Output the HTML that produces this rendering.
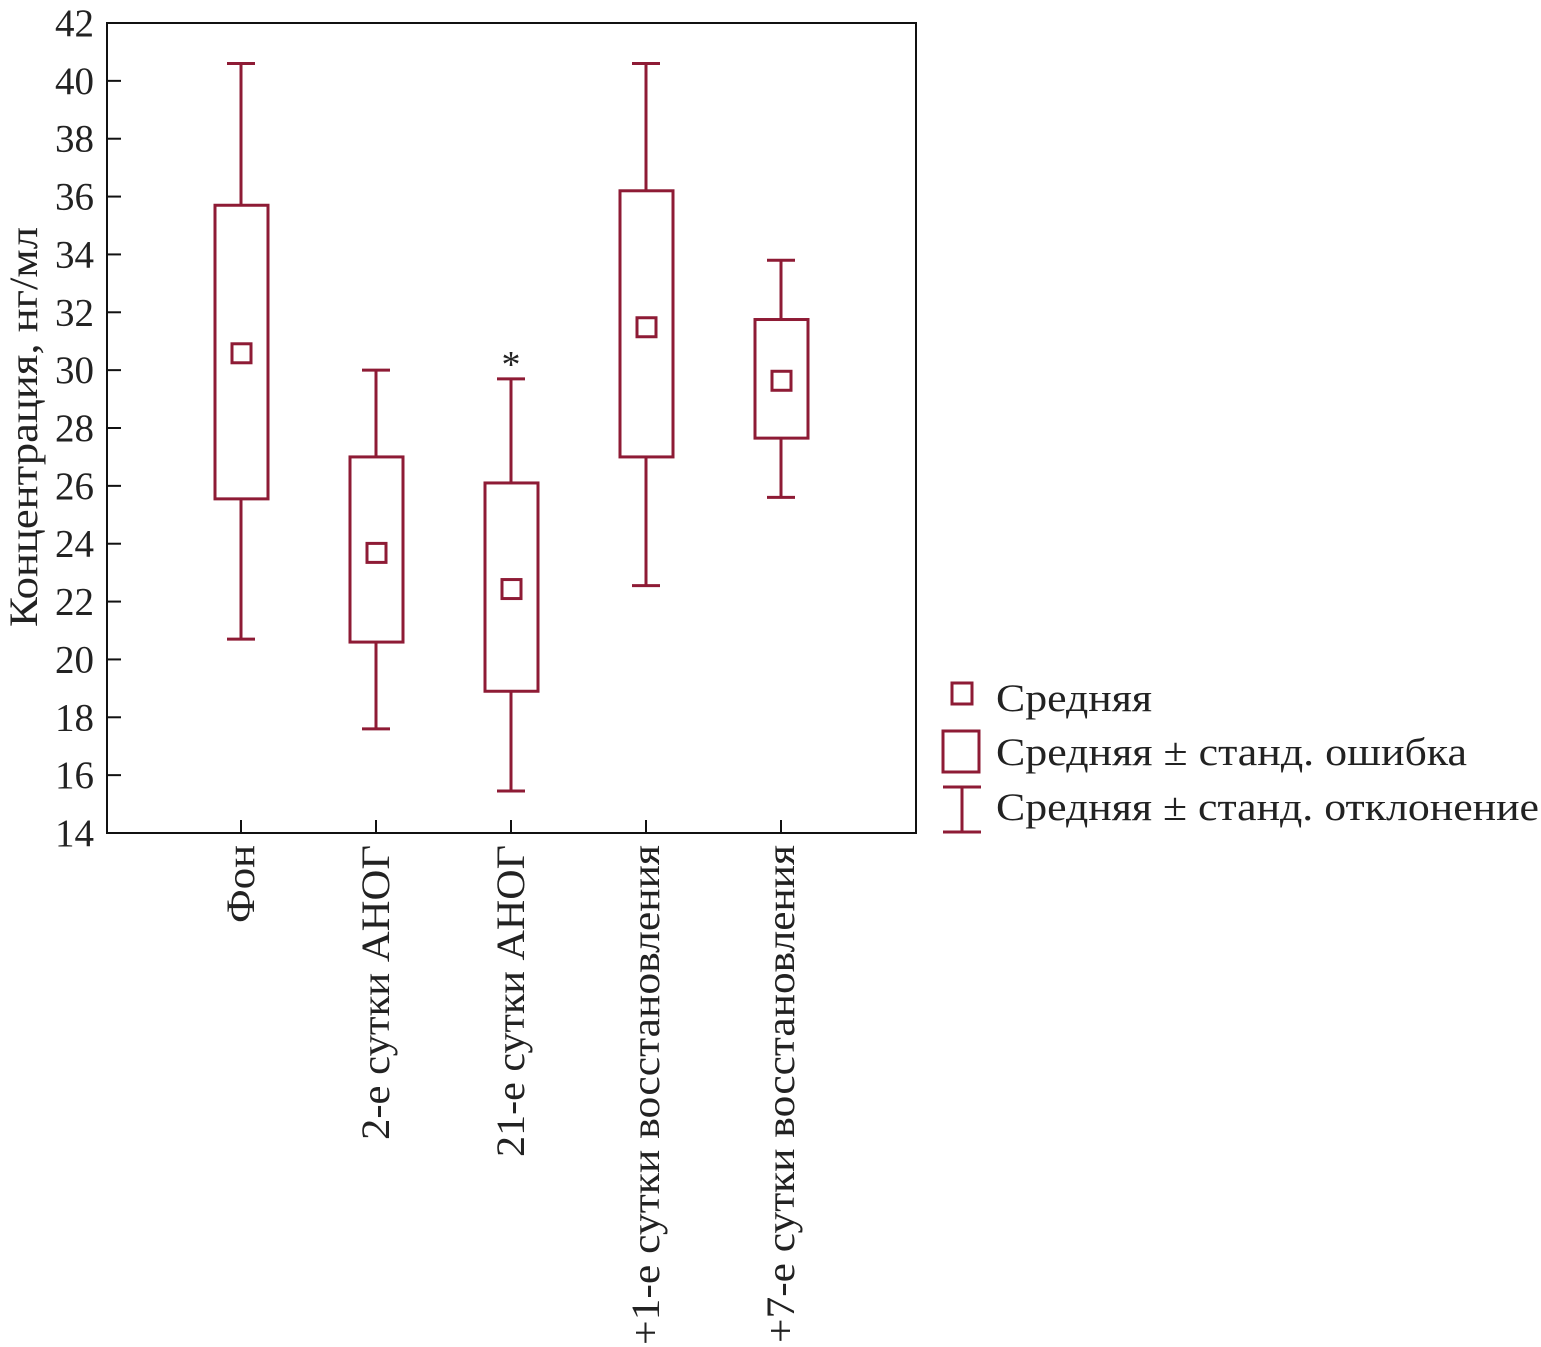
<!DOCTYPE html>
<html><head><meta charset="utf-8"><style>
html,body{margin:0;padding:0;background:#fff;}
svg{display:block;font-family:"Liberation Serif","DejaVu Serif",serif;}
</style></head><body>
<svg width="1541" height="1347" viewBox="0 0 1541 1347">
<g id="axes"></g>
<g id="marks"></g>
<g id="legend">
  <rect x="952" y="683" width="20" height="21" fill="none" stroke="#8e1b35" stroke-width="3"/>
  <text x="996" y="711" font-size="39" fill="#222" textLength="156" lengthAdjust="spacingAndGlyphs">Средняя</text>
  <rect x="943" y="731" width="36" height="41" fill="none" stroke="#8e1b35" stroke-width="3"/>
  <text x="996" y="765" font-size="39" fill="#222" textLength="471" lengthAdjust="spacingAndGlyphs">Средняя ± станд. ошибка</text>
  <g stroke="#8e1b35" stroke-width="3">
    <line x1="943" y1="787" x2="981" y2="787"/><line x1="962" y1="787" x2="962" y2="832"/><line x1="943" y1="832" x2="981" y2="832"/>
  </g>
  <text x="996" y="820" font-size="39" fill="#222" textLength="543" lengthAdjust="spacingAndGlyphs">Средняя ± станд. отклонение</text>
</g>
</svg>
<script>
const categories = ["Фон","2-е сутки АНОГ","21-е сутки АНОГ","+1-е сутки восстановления","+7-е сутки восстановления"];
const means = [30.6, 23.7, 22.45, 31.5, 29.65];
const seHigh = [35.7, 27.0, 26.1, 36.2, 31.75];
const seLow = [25.55, 20.6, 18.9, 27.0, 27.65];
const sdHigh = [40.6, 30.0, 29.7, 40.6, 33.8];
const sdLow = [20.7, 17.6, 15.45, 22.55, 25.6];
const significant = [false, false, true, false, false];
const yTicks = [14,16,18,20,22,24,26,28,30,32,34,36,38,40,42];
const labelLengths = [78, 295, 312, 500, 498];

const NS = "http://www.w3.org/2000/svg";
const L = 107, R = 916, T = 23, B = 833, yMin = 14, yMax = 42;
const C = "#8e1b35";
const y = v => B - (v - yMin) * (B - T) / (yMax - yMin);
const x = i => 241 + i * 135;
function mk(tag, attrs, parent){const e=document.createElementNS(NS,tag);for(const k in attrs)e.setAttribute(k,attrs[k]);parent.appendChild(e);return e;}
const axes = document.getElementById('axes'), marks = document.getElementById('marks');

const frame = mk('rect',{x:L,y:T,width:R-L,height:B-T,fill:'none',stroke:'#111','stroke-width':2},axes);



yTicks.forEach(v=>{
  const t = mk('line',{x1:L,x2:L+14,y1:y(v),y2:y(v),stroke:'#111','stroke-width':2},axes);
  
  
  const lb = mk('text',{x:94,y:y(v)+13,'text-anchor':'end','font-size':39,fill:'#222'},axes);
  lb.textContent = v;
  
  
});
const yt = mk('text',{transform:'translate(37,427) rotate(-90)','text-anchor':'middle','font-size':40,fill:'#222',textLength:400,lengthAdjust:'spacingAndGlyphs'},axes);
yt.textContent = 'Концентрация, нг/мл';



categories.forEach((c,i)=>{
  const cx = x(i);
  const t = mk('line',{x1:cx,x2:cx,y1:B,y2:B-13,stroke:'#111','stroke-width':2},axes);
  
  
  const lb = mk('text',{transform:`translate(${cx+13},845) rotate(-90)`,'text-anchor':'end','font-size':40,fill:'#222',textLength:labelLengths[i],lengthAdjust:'spacingAndGlyphs'},axes);
  lb.textContent = c;
  
  

  const g = mk('g',{stroke:C,'stroke-width':3,fill:'none'},marks);
  
  
  mk('line',{x1:cx,x2:cx,y1:y(sdHigh[i]),y2:y(seHigh[i])},g);
  mk('line',{x1:cx,x2:cx,y1:y(seLow[i]),y2:y(sdLow[i])},g);
  mk('line',{x1:cx-14,x2:cx+14,y1:y(sdHigh[i]),y2:y(sdHigh[i])},g);
  mk('line',{x1:cx-14,x2:cx+14,y1:y(sdLow[i]),y2:y(sdLow[i])},g);
  const box = mk('rect',{x:cx-26,y:y(seHigh[i]),width:53,height:y(seLow[i])-y(seHigh[i])},g);
  
  
  const m = mk('rect',{x:cx-9,y:y(means[i])-9,width:19,height:19},g);
  
  
  if(significant[i]){
    const s = mk('text',{x:cx,y:y(sdHigh[i])-2,'text-anchor':'middle','font-size':38,fill:'#222'},marks);
    s.textContent='*';
    
    
  }
});
</script>
</body></html>
